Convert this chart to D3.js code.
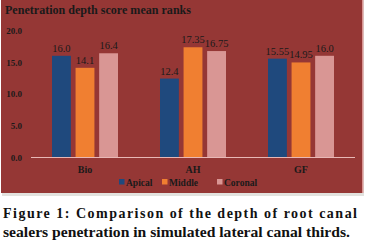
<!DOCTYPE html>
<html>
<head>
<meta charset="utf-8">
<script src="https://cdn.jsdelivr.net/npm/d3@7"></script>
<style>
  body { margin: 0; background: #fff; }
  svg text { font-family: "Liberation Serif", "DejaVu Serif", serif; }
</style>
</head>
<body>
<svg id="chart"></svg>
<script>
// data
var categories = ["Bio", "AH", "GF"];
var seriesNames = ["Apical", "Middle", "Coronal"];
var apical = [16.0, 12.4, 15.55];
var middle = [14.1, 17.35, 14.95];
var coronal = [16.4, 16.75, 16.0];
var labelText = [["16.0", "12.4", "15.55"], ["14.1", "17.35", "14.95"], ["16.4", "16.75", "16.0"]];
var yTicks = [0, 5, 10, 15, 20];

var colors = ["#1f497d", "#f07f31", "#d99694"];
var series = [apical, middle, coronal];

var W = 368, H = 244;
var svg = d3.select("#chart").attr("width", W).attr("height", H);

// panel
svg.append("rect").attr("x", 2).attr("y", 0).attr("width", 362).attr("height", 196)
  .attr("fill", "#e2e2de");
svg.append("rect").attr("x", 1).attr("y", 0).attr("width", 361).attr("height", 193)
  .attr("fill", "#953735");
svg.append("rect").attr("x", 362).attr("y", 0).attr("width", 1.5).attr("height", 193)
  .attr("fill", "#d99694");

svg.append("text").attr("x", 5).attr("y", 14)
  .attr("font-size", 13).attr("font-weight", "bold").attr("fill", "#1a1a1a")
  .attr("textLength", 186).attr("lengthAdjust", "spacingAndGlyphs")
  .text("Penetration depth score mean ranks");

var x0 = d3.scaleBand().domain(categories).range([31, 355]);
var x1 = d3.scaleBand().domain(seriesNames).range([0, 66]).paddingInner(0.2);
var y = d3.scaleLinear().domain([0, 20]).range([157, 30.5]);

// y axis labels
svg.append("g").selectAll("text").data(yTicks).join("text")
  .attr("x", 22).attr("y", function(d) { return y(d) + 3.5; })
  .attr("text-anchor", "end").attr("font-size", 9).attr("font-weight", "bold")
  .attr("fill", "#1a1a1a")
  .text(function(d) { return d.toFixed(1); });

// bars
series.forEach(function(vals, si) {
  var g = svg.append("g");
  g.selectAll("rect").data(vals).join("rect")
    .attr("x", function(d, i) { return x0(categories[i]) + 21 + x1(seriesNames[si]); })
    .attr("y", function(d) { return y(d); })
    .attr("width", x1.bandwidth())
    .attr("height", function(d) { return y(0) - y(d); })
    .attr("fill", colors[si]);
  g.selectAll("text").data(vals).join("text")
    .attr("x", function(d, i) { return x0(categories[i]) + 21 + x1(seriesNames[si]) + x1.bandwidth() / 2; })
    .attr("y", function(d) { return y(d) - 4; })
    .attr("text-anchor", "middle").attr("font-size", 10.5).attr("fill", "#1a1a1a")
    .text(function(d, i) { return labelText[si][i]; });
});

// x axis line
svg.append("line").attr("x1", 31).attr("x2", 355).attr("y1", y(0) + 0.5).attr("y2", y(0) + 0.5)
  .attr("stroke", "#e8b8b6").attr("stroke-width", 1);

svg.append("g").selectAll("text").data(categories).join("text")
  .attr("x", function(d) { return x0(d) + x0.bandwidth() / 2; })
  .attr("y", 173).attr("text-anchor", "middle")
  .attr("font-size", 10).attr("font-weight", "bold").attr("fill", "#1a1a1a")
  .text(function(d) { return d; });

// legend
var legendX = [119, 162, 217];
var lg = svg.append("g");
seriesNames.forEach(function(name, i) {
  lg.append("rect").attr("x", legendX[i]).attr("y", 179).attr("width", 5.5).attr("height", 5.5)
    .attr("fill", colors[i]);
  lg.append("text").attr("x", legendX[i] + 7).attr("y", 185.5)
    .attr("font-size", 9.5).attr("font-weight", "bold").attr("fill", "#1a1a1a")
    .text(name);
});

// caption
var cap = svg.append("g").attr("font-weight", "bold").attr("fill", "#111");
cap.append("text").attr("x", 3).attr("y", 218).attr("font-size", 14)
  .attr("textLength", 354).attr("lengthAdjust", "spacing")
  .text("Figure 1: Comparison of the depth of root canal");
cap.append("text").attr("x", 3).attr("y", 237).attr("font-size", 14)
  .attr("textLength", 347).attr("lengthAdjust", "spacingAndGlyphs")
  .text("sealers penetration in simulated lateral canal thirds.");
</script>
</body>
</html>
